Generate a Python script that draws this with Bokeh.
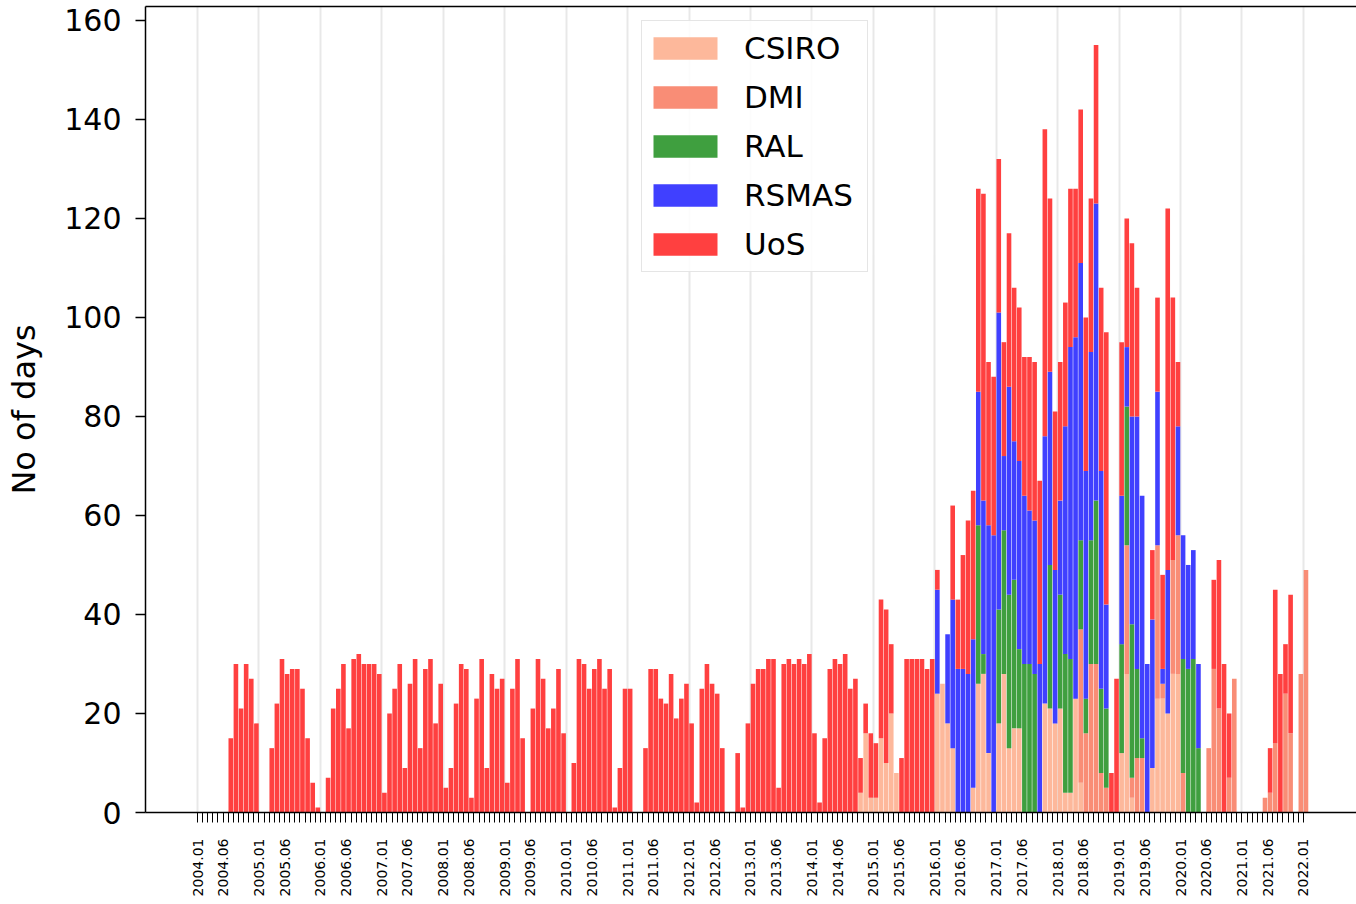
import math
from bokeh.plotting import figure
from bokeh.models import (Range1d, FixedTicker, Legend, LegendItem, LinearAxis,
                          ColumnDataSource)
from bokeh.embed import file_html
from bokeh.resources import INLINE

# ---------------- data (one row per year, Jan..Dec; 2004.01 .. 2022.01) -------------
UoS = [
    0, 0, 0, 0, 0, 0, 15, 30, 21, 30, 27, 18,        # 2004
    0, 0, 13, 22, 31, 28, 29, 29, 25, 15, 6, 1,       # 2005
    0, 7, 21, 25, 30, 17, 31, 32, 30, 30, 30, 28,     # 2006
    4, 20, 25, 30, 9, 26, 31, 13, 29, 31, 18, 26,     # 2007
    5, 9, 22, 30, 29, 3, 23, 31, 9, 28, 25, 27,       # 2008
    6, 25, 31, 15, 0, 21, 31, 27, 17, 21, 29, 16,     # 2009
    0, 10, 31, 30, 25, 29, 31, 25, 29, 1, 9, 25,      # 2010
    25, 0, 0, 13, 29, 29, 23, 22, 28, 19, 23, 26,     # 2011
    18, 2, 25, 30, 26, 24, 13, 0, 0, 12, 1, 18,       # 2012
    26, 29, 29, 31, 31, 5, 30, 31, 30, 31, 30, 32,    # 2013
    16, 2, 15, 29, 31, 30, 32, 25, 27, 7, 6, 13,      # 2014
    11, 28, 31, 14, 0, 11, 31, 31, 31, 31, 29, 31,    # 2015
    4, 0, 0, 19, 14, 23, 31, 30, 41, 62, 33, 32,      # 2016
    31, 23, 31, 31, 31, 28, 31, 32, 37, 62, 35, 32,   # 2017
    28, 25, 32, 30, 31, 31, 31, 32, 37, 55, 8, 27,    # 2018
    31, 26, 35, 26, 0, 0, 14, 19, 19, 73, 53, 13,     # 2019
    0, 0, 0, 0, 0, 0, 18, 30, 30, 13, 0, 0,           # 2020
    0, 0, 0, 0, 0, 9, 31, 28, 10, 28, 0, 0,           # 2021
    0,                                                # 2022
]
CSIRO = [
    0, 0, 0, 0, 0, 0, 0, 0, 0, 0, 0, 0,               # 2004
    0, 0, 0, 0, 0, 0, 0, 0, 0, 0, 0, 0,               # 2005
    0, 0, 0, 0, 0, 0, 0, 0, 0, 0, 0, 0,               # 2006
    0, 0, 0, 0, 0, 0, 0, 0, 0, 0, 0, 0,               # 2007
    0, 0, 0, 0, 0, 0, 0, 0, 0, 0, 0, 0,               # 2008
    0, 0, 0, 0, 0, 0, 0, 0, 0, 0, 0, 0,               # 2009
    0, 0, 0, 0, 0, 0, 0, 0, 0, 0, 0, 0,               # 2010
    0, 0, 0, 0, 0, 0, 0, 0, 0, 0, 0, 0,               # 2011
    0, 0, 0, 0, 0, 0, 0, 0, 0, 0, 0, 0,               # 2012
    0, 0, 0, 0, 0, 0, 0, 0, 0, 0, 0, 0,               # 2013
    0, 0, 0, 0, 0, 0, 0, 0, 0, 4, 16, 3,              # 2014
    3, 15, 10, 20, 8, 0, 0, 0, 0, 0, 0, 0,            # 2015
    24, 26, 18, 13, 0, 0, 0, 5, 26, 28, 12, 0,        # 2016
    18, 28, 13, 17, 17, 0, 0, 0, 0, 22, 21, 18,       # 2017
    21, 4, 4, 23, 6, 0, 0, 0, 0, 0, 0, 0,             # 2018
    12, 28, 3, 0, 0, 0, 9, 23, 23, 20, 28, 28,        # 2019
    0, 0, 0, 0, 0, 0, 0, 0, 0, 0, 0, 0,               # 2020
    0, 0, 0, 0, 0, 0, 0, 0, 0, 0, 0, 0,               # 2021
    0,                                                # 2022
]
DMI = [
    0, 0, 0, 0, 0, 0, 0, 0, 0, 0, 0, 0,               # 2004
    0, 0, 0, 0, 0, 0, 0, 0, 0, 0, 0, 0,               # 2005
    0, 0, 0, 0, 0, 0, 0, 0, 0, 0, 0, 0,               # 2006
    0, 0, 0, 0, 0, 0, 0, 0, 0, 0, 0, 0,               # 2007
    0, 0, 0, 0, 0, 0, 0, 0, 0, 0, 0, 0,               # 2008
    0, 0, 0, 0, 0, 0, 0, 0, 0, 0, 0, 0,               # 2009
    0, 0, 0, 0, 0, 0, 0, 0, 0, 0, 0, 0,               # 2010
    0, 0, 0, 0, 0, 0, 0, 0, 0, 0, 0, 0,               # 2011
    0, 0, 0, 0, 0, 0, 0, 0, 0, 0, 0, 0,               # 2012
    0, 0, 0, 0, 0, 0, 0, 0, 0, 0, 0, 0,               # 2013
    0, 0, 0, 0, 0, 0, 0, 0, 0, 0, 0, 0,               # 2014
    0, 0, 0, 0, 0, 0, 0, 0, 0, 0, 0, 0,               # 2015
    0, 0, 0, 0, 0, 0, 0, 0, 0, 0, 0, 0,               # 2016
    0, 0, 0, 0, 0, 0, 0, 0, 0, 0, 0, 0,               # 2017
    0, 0, 0, 0, 31, 16, 30, 30, 8, 5, 0, 0,           # 2018
    0, 26, 4, 11, 11, 0, 0, 31, 3, 0, 23, 28,         # 2019
    8, 0, 0, 0, 0, 13, 29, 21, 0, 7, 27, 0,           # 2020
    0, 0, 0, 0, 3, 4, 14, 0, 24, 16, 0, 28,           # 2021
    49,                                               # 2022
]
RAL = [
    0, 0, 0, 0, 0, 0, 0, 0, 0, 0, 0, 0,               # 2004
    0, 0, 0, 0, 0, 0, 0, 0, 0, 0, 0, 0,               # 2005
    0, 0, 0, 0, 0, 0, 0, 0, 0, 0, 0, 0,               # 2006
    0, 0, 0, 0, 0, 0, 0, 0, 0, 0, 0, 0,               # 2007
    0, 0, 0, 0, 0, 0, 0, 0, 0, 0, 0, 0,               # 2008
    0, 0, 0, 0, 0, 0, 0, 0, 0, 0, 0, 0,               # 2009
    0, 0, 0, 0, 0, 0, 0, 0, 0, 0, 0, 0,               # 2010
    0, 0, 0, 0, 0, 0, 0, 0, 0, 0, 0, 0,               # 2011
    0, 0, 0, 0, 0, 0, 0, 0, 0, 0, 0, 0,               # 2012
    0, 0, 0, 0, 0, 0, 0, 0, 0, 0, 0, 0,               # 2013
    0, 0, 0, 0, 0, 0, 0, 0, 0, 0, 0, 0,               # 2014
    0, 0, 0, 0, 0, 0, 0, 0, 0, 0, 0, 0,               # 2015
    0, 0, 0, 0, 0, 0, 0, 0, 32, 4, 0, 0,              # 2016
    23, 29, 31, 30, 16, 30, 30, 28, 0, 0, 29, 0,      # 2017
    23, 28, 27, 0, 18, 7, 25, 33, 17, 16, 0, 0,       # 2018
    22, 28, 31, 18, 4, 0, 0, 0, 0, 0, 0, 0,           # 2019
    23, 29, 31, 13, 0, 0, 0, 0, 0, 0, 0, 0,           # 2020
    0, 0, 0, 0, 0, 0, 0, 0, 0, 0, 0, 0,               # 2021
    0,                                                # 2022
]
RSMAS = [
    0, 0, 0, 0, 0, 0, 0, 0, 0, 0, 0, 0,               # 2004
    0, 0, 0, 0, 0, 0, 0, 0, 0, 0, 0, 0,               # 2005
    0, 0, 0, 0, 0, 0, 0, 0, 0, 0, 0, 0,               # 2006
    0, 0, 0, 0, 0, 0, 0, 0, 0, 0, 0, 0,               # 2007
    0, 0, 0, 0, 0, 0, 0, 0, 0, 0, 0, 0,               # 2008
    0, 0, 0, 0, 0, 0, 0, 0, 0, 0, 0, 0,               # 2009
    0, 0, 0, 0, 0, 0, 0, 0, 0, 0, 0, 0,               # 2010
    0, 0, 0, 0, 0, 0, 0, 0, 0, 0, 0, 0,               # 2011
    0, 0, 0, 0, 0, 0, 0, 0, 0, 0, 0, 0,               # 2012
    0, 0, 0, 0, 0, 0, 0, 0, 0, 0, 0, 0,               # 2013
    0, 0, 0, 0, 0, 0, 0, 0, 0, 0, 0, 0,               # 2014
    0, 0, 0, 0, 0, 0, 0, 0, 0, 0, 0, 0,               # 2015
    21, 0, 18, 30, 29, 29, 28, 30, 27, 31, 46, 56,    # 2016
    60, 15, 42, 28, 38, 34, 31, 31, 30, 54, 39, 31,   # 2017
    19, 46, 63, 73, 56, 46, 38, 60, 44, 21, 0, 0,     # 2018
    30, 12, 42, 51, 49, 30, 30, 31, 3, 29, 0, 22,     # 2019
    25, 21, 22, 17, 0, 0, 0, 0, 0, 0, 0, 0,           # 2020
    0, 0, 0, 0, 0, 0, 0, 0, 0, 0, 0, 0,               # 2021
    0,                                                # 2022
]

series = ["CSIRO", "DMI", "RAL", "RSMAS", "UoS"]
colors = ["#FDB89B", "#F98D76", "#3F9F3F", "#4040FF", "#FF4040"]

months = [f"{2004 + k // 12}.{k % 12 + 1:02d}" for k in range(len(UoS))]
month_index = list(range(len(months)))
labelled = [k for k in month_index if months[k].endswith(".01") or months[k].endswith(".06")]
year_starts = [k for k in month_index if months[k].endswith(".01")]
y_ticks = [0, 20, 40, 60, 80, 100, 120, 140, 160]

# ---------------- figure ----------------
source = ColumnDataSource(dict(
    x=[k + 0.5 for k in month_index],
    CSIRO=CSIRO, DMI=DMI, RAL=RAL, RSMAS=RSMAS, UoS=UoS,
))

p = figure(width=1356, height=904,
           x_range=Range1d(-10.16, 226.37), y_range=Range1d(0, 162.8),
           output_backend="svg", toolbar_location=None,
           min_border_left=145, min_border_right=0,
           min_border_top=6, min_border_bottom=92)
p.outline_line_color = None
p.background_fill_color = "white"

renderers = p.vbar_stack(series, x="x", width=0.9, color=colors,
                         line_color=None, source=source)

# grid: only light vertical lines at each January
p.ygrid.grid_line_color = None
p.xgrid.ticker = FixedTicker(ticks=year_starts)
p.xgrid.grid_line_color = "#E8E8E8"
p.xgrid.grid_line_width = 2

# x axis: a tick every month, labels at Jan and Jun
xa = p.xaxis[0]
xa.ticker = FixedTicker(ticks=month_index)
xa.major_label_overrides = {k: (months[k] if k in labelled else "") for k in month_index}
xa.major_label_orientation = math.pi / 2
xa.major_label_text_font = "DejaVu Sans"
xa.major_label_text_font_size = "14px"
xa.major_label_text_color = "black"
xa.major_label_standoff = 16
xa.major_tick_out = 10
xa.major_tick_in = 0
xa.minor_tick_out = 0
xa.minor_tick_in = 0
xa.major_tick_line_color = "black"
xa.major_tick_line_width = 1
xa.axis_line_color = "black"
xa.axis_line_width = 1.5

# y axis
ya = p.yaxis[0]
ya.ticker = FixedTicker(ticks=y_ticks)
ya.major_label_text_font = "DejaVu Sans"
ya.major_label_text_font_size = "30px"
ya.major_label_text_color = "black"
ya.major_label_standoff = 14
ya.major_tick_out = 10
ya.major_tick_in = 0
ya.minor_tick_out = 0
ya.minor_tick_in = 0
ya.major_tick_line_width = 1.5
ya.axis_line_color = "black"
ya.axis_line_width = 1.5
ya.axis_label = "No of days"
ya.axis_label_text_font = "DejaVu Sans"
ya.axis_label_text_font_size = "32px"
ya.axis_label_text_font_style = "normal"
ya.axis_label_text_color = "black"
ya.axis_label_standoff = 18

# top spine
top = LinearAxis(ticker=FixedTicker(ticks=[]), major_label_text_font_size="0px",
                 major_tick_out=0, major_tick_in=0, minor_tick_out=0, minor_tick_in=0,
                 axis_line_color="black", axis_line_width=1.5, major_label_standoff=0)
p.add_layout(top, "above")

# legend
legend = Legend(items=[LegendItem(label=n, renderers=[r]) for n, r in zip(series, renderers)],
                location=(496, 540))
legend.label_text_font = "DejaVu Sans"
legend.label_text_font_size = "31px"
legend.label_text_color = "black"
legend.glyph_width = 80
legend.glyph_height = 28
legend.label_height = 48
legend.label_width = 120
legend.label_standoff = 19
legend.spacing = 1
legend.padding = 3
legend.margin = 0
legend.border_line_color = "#CCCCCC"
legend.border_line_width = 1.5
legend.background_fill_color = "white"
legend.background_fill_alpha = 0.85
p.add_layout(legend)

open("out.html", "w").write(file_html(p, INLINE))
